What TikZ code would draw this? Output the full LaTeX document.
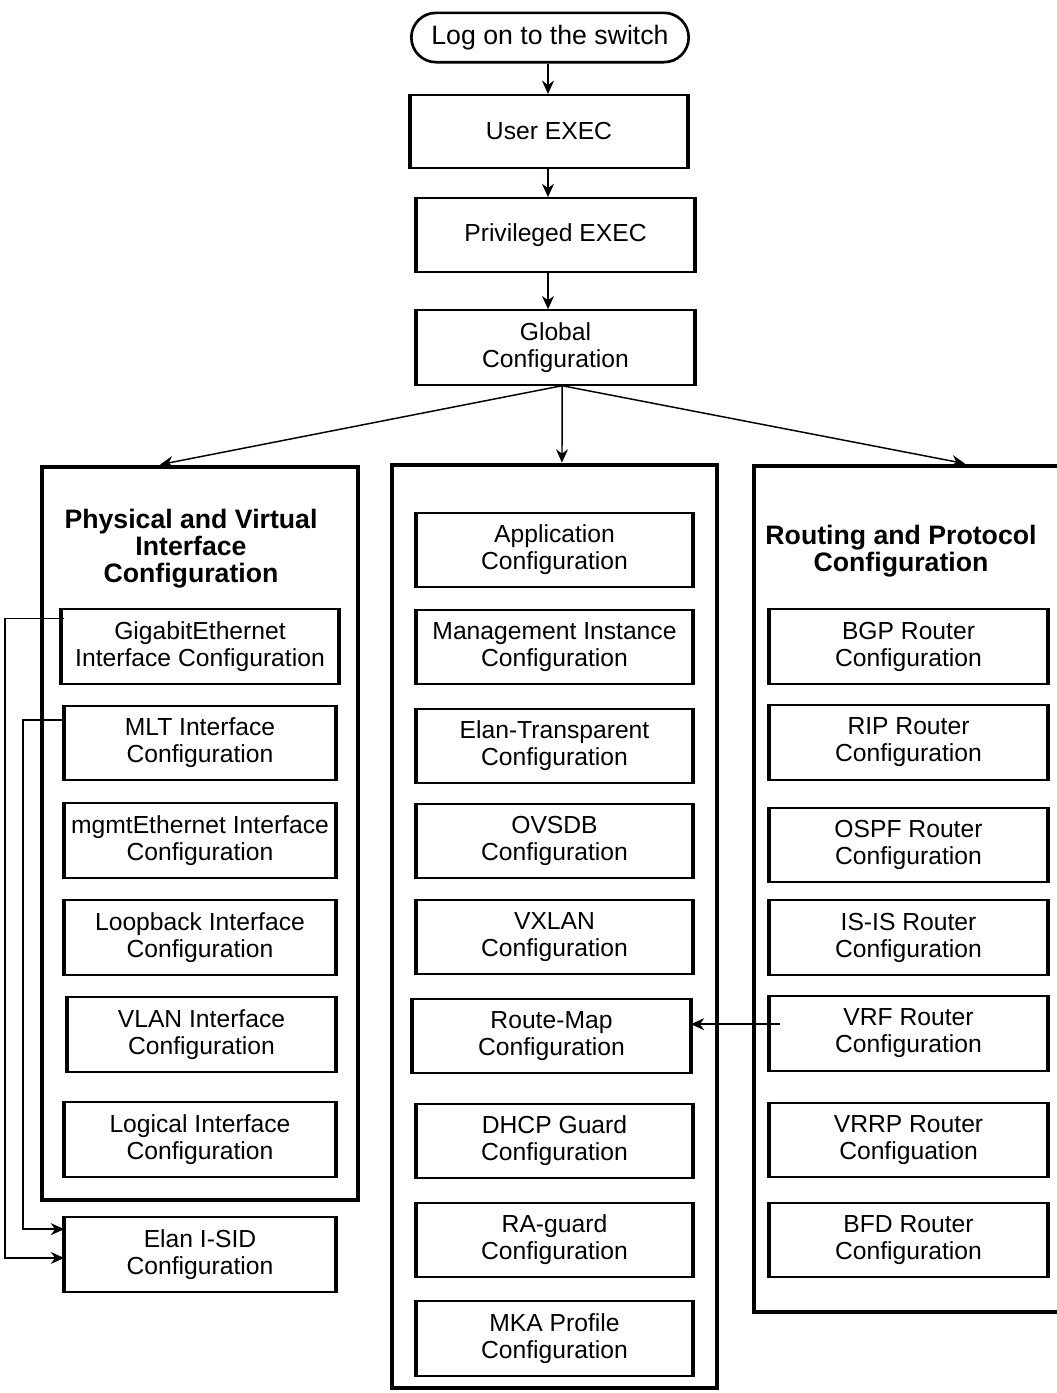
\documentclass[tikz,border=0pt]{standalone}
\usepackage{fontspec}
\setmainfont{Liberation Sans}
\usetikzlibrary{arrows.meta,shapes.misc}

\tikzset{every picture/.style={line width=0.75pt},
	flow/.style={line width=1.1pt,-{Stealth[length=10pt,width=9pt]}},
	startbox/.style={rounded rectangle, draw, line width=2pt, minimum width=210pt, minimum height=37pt, inner sep=1pt, font=\fontsize{20}{22}\selectfont},
	cfgbox/.style={draw, line width=1.3pt, align=center, minimum height=56pt, inner sep=1pt, font=\fontsize{18.5}{20.25}\selectfont,
		append after command={(\tikzlastnode.north west) edge[line width=3pt] (\tikzlastnode.south west)
			(\tikzlastnode.north east) edge[line width=3pt] (\tikzlastnode.south east)}},
	leftbox/.style={cfgbox, minimum width=202.5pt},
	midbox/.style={cfgbox, minimum width=206pt},
	rightbox/.style={cfgbox, minimum width=208pt},
	groupbox/.style={draw, line width=3.6pt, inner sep=0pt},
	grouptitle/.style={align=center, font=\fontsize{20}{20.25}\selectfont\bfseries}
}

\begin{document}
\begin{tikzpicture}[x=0.75pt,y=0.75pt,yscale=-1,xscale=1]
	\useasboundingbox (0,0) rectangle (1057,1393);

	% Top chain
	\node[startbox] (logon) at (550,37.5) {Log on to the switch};
	\node[cfgbox, minimum width=207pt, minimum height=55pt] (user) at (549,131.5) {User EXEC};
	\node[cfgbox, minimum width=207.75pt, minimum height=55.5pt] (priv) at (555.5,235) {Privileged EXEC};
	\node[cfgbox, minimum width=207.75pt, minimum height=56pt] (global) at (555.5,347.5) {Global\\Configuration};

	\draw[flow] ([xshift=-1.5pt]logon.south) -- ([xshift=-1.5pt]logon.south |- user.north);
	\draw[flow] ([xshift=-0.75pt]user.south) -- ([xshift=-0.75pt]user.south |- priv.north);
	\draw[flow] ([xshift=-5.6pt]priv.south) -- ([xshift=-5.6pt]priv.south |- global.north);

	% Groups
	\node[groupbox, minimum width=237pt, minimum height=549.75pt] (phys) at (200,833.5) {};
	\node[groupbox, minimum width=243.75pt, minimum height=692.25pt] (misc) at (554.5,926.5) {};
	\node[groupbox, minimum width=244.5pt, minimum height=634.5pt] (routing) at (917,889) {};

	\draw[flow] ([xshift=5pt]global.south) -- ([xshift=-30pt]phys.north);
	\draw[flow] ([xshift=5pt]global.south) -- ([xshift=5.6pt]misc.north);
	\draw[flow] ([xshift=5pt]global.south) -- ([xshift=36pt]routing.north);

	% Physical and virtual interfaces
	\node[grouptitle] (physT) at (191,549) {Physical and Virtual\\Interface\\Configuration};
	\node[leftbox, minimum width=207pt] (gige) at (200,646.5) {GigabitEthernet\\Interface Configuration};
	\node[leftbox] (mlt) at (200,743) {MLT Interface\\Configuration};
	\node[leftbox] (mgmt) at (200,840.5) {mgmtEthernet Interface\\Configuration};
	\node[leftbox] (loop) at (200,937.5) {Loopback Interface\\Configuration};
	\node[leftbox, minimum width=200.25pt] (vlan) at (201.5,1034.5) {VLAN Interface\\Configuration};
	\node[leftbox] (logical) at (200,1139.5) {Logical Interface\\Configuration};
	\node[leftbox] (elan) at (200,1254.5) {Elan I-SID\\Configuration};

	% Middle column
	\node[midbox] (app) at (554.5,550) {Application\\Configuration};
	\node[midbox] (mgmtinst) at (554.5,647) {Management Instance\\Configuration};
	\node[midbox] (elantr) at (554.5,746) {Elan-Transparent\\Configuration};
	\node[midbox] (ovsdb) at (554.5,841) {OVSDB\\Configuration};
	\node[midbox] (vxlan) at (554.5,937) {VXLAN\\Configuration};
	\node[midbox, minimum width=207.75pt] (routemap) at (551.5,1036) {Route-Map\\Configuration};
	\node[midbox] (dhcp) at (554.5,1141) {DHCP Guard\\Configuration};
	\node[midbox] (raguard) at (554.5,1240) {RA-guard\\Configuration};
	\node[midbox] (mka) at (554.5,1338.5) {MKA Profile\\Configuration};

	% Routing and protocol
	\node[grouptitle] (routingT) at (901,551) {Routing and Protocol\\Configuration};
	\node[rightbox] (bgp) at (908.5,646.5) {BGP Router\\Configuration};
	\node[rightbox] (rip) at (908.5,742.5) {RIP Router\\Configuration};
	\node[rightbox] (ospf) at (908.5,845) {OSPF Router\\Configuration};
	\node[rightbox] (isis) at (908.5,937.5) {IS-IS Router\\Configuration};
	\node[rightbox] (vrf) at (908.5,1033.5) {VRF Router\\Configuration};
	\node[rightbox] (vrrp) at (908.5,1140) {VRRP Router\\Configuation};
	\node[rightbox] (bfd) at (908.5,1240) {BFD Router\\Configuration};

	% Cross links
	\draw[flow] ([xshift=2pt,yshift=7.5pt]gige.north west) -- ++(-44pt,0) |- ([yshift=2.6pt]elan.west);
	\draw[flow] ([yshift=11.25pt]mlt.north west) -- ++(-30.75pt,0) |- ([yshift=-19pt]elan.west);
	\draw[flow] ([xshift=8pt,yshift=-7pt]vrf.west) coordinate (vrfout) -- (vrfout -| routemap.east);

\end{tikzpicture}
\end{document}
